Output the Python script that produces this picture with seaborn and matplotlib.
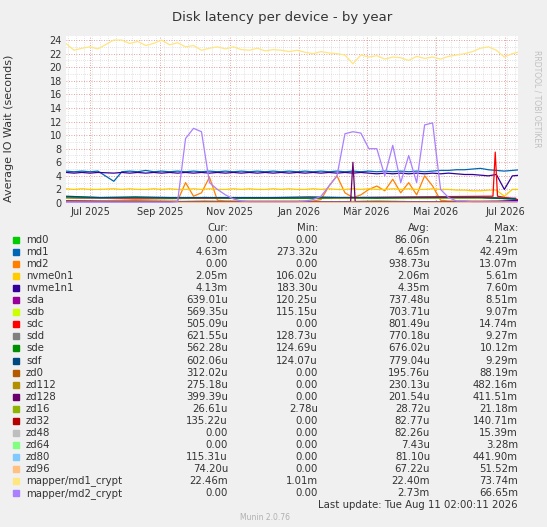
import numpy as np, pandas as pd, matplotlib
matplotlib.use("Agg")
import matplotlib.pyplot as plt, matplotlib.dates as mdates
import seaborn as sns

sns.set_style("white")
plt.rcParams['font.family'] = ['DejaVu Sans']

start = pd.Timestamp("2025-06-10")
N = 58
weeks = [start + pd.Timedelta(days=7 * k) for k in range(N)]
months = [pd.Timestamp(f"{y}-{m:02d}-10") for y, m in
          [(2025, 6), (2025, 7), (2025, 8), (2025, 9), (2025, 10), (2025, 11), (2025, 12),
           (2026, 1), (2026, 2), (2026, 3), (2026, 4), (2026, 5), (2026, 6), (2026, 7)]]
spike_dates = [pd.Timestamp(s) for s in
               ["2025-06-10", "2025-08-10", "2025-10-10", "2025-12-10", "2026-02-15", "2026-02-17",
                "2026-02-19", "2026-04-10", "2026-06-20", "2026-06-22", "2026-06-24", "2026-07-12"]]
nan = np.nan

md1_crypt = [23.5, 22.5, 22.8, 23, 22.7, nan, 24, 24, 23.5, 23.8, 23.2, 23.5, 24, 23.3, 23.6, 23,
             23.2, 22.5, 22.8, 23, 22.7, 23, 22.6, 22.5, 22.8, 22.4, 22.6, 22.5, 22.3, 22.5,
             22.2, 22, 22.3, 22.1, 22, 21.8, 20.5, 21.8, 21.5, 21.7, 21.2, 21.5, 21.4, 21, 21.6, 21.3,
             21.5, 21.2, 21.6, 21.8, 22, 22.3, 22.8, 23, 22.5, 21.5, 22, 22.3]
md2_crypt = [0.1, 0.1, 0.1, 0.1, 0.1, nan, 0.1, 0.1, 0.1, 0.1, 0.1, 0.1, 0.1, 0.1, 0.2,
             9.5, 11, 10.5, 3, 2, 1.2, 0.6, 0.3, 0.2, 0.2, 0.2, 0.2, 0.2, 0.2, 0.2, 0.3,
             0.5, 1, 2.5, 4, 10.2, 10.5, 10.3, 8, 8, 4, 8.5, 3, 7, 3, 11.5, 11.8, 2, 0.8,
             0.3, 0.3, 0.2, 0.2, 0.2, 0.2, 0.2, 0.2, 0.2]
md2 = [0.3, 0.3, 0.3, 0.3, 0.3, nan, 0.3, 0.3, 0.3, 0.3, 0.3, 0.3, 0.3, 0.3, 0.3,
       3, 1, 1.5, 3.8, 0.4, 0.3, 0.3, 0.3, 0.3, 0.3, 0.3, 0.3, 0.3, 0.3, 0.3, 0.3, 0.3,
       0.5, 2.5, 4, 1.5, 0.8, 1.2, 2, 2.5, 1.8, 3.5, 1.5, 3, 1.2, 4, 2.5, 0.4,
       0.3, 0.3, 0.3, 0.3, 0.3, 0.3, 0.3, 0.3, 0.3, 0.3]
nvme1n1 = [4.5, 4.4, 4.5, 4.4, 4.5, nan, 4.4, 4.5, 4.4, 4.5, 4.4, 4.5, 4.4, 4.5, 4.4, 4.5,
           4.4, 4.5, 4.4, 4.5, 4.4, 4.5, 4.4, 4.5, 4.4, 4.5, 4.4, 4.5, 4.4, 4.5, 4.4, 4.5,
           4.4, 4.5, 4.4, 4.5, 4.4, 4.5, 4.4, 4.3, 4.4, 4.3, 4.4, 4.3, 4.4, 4.3, 4.4, 4.3,
           4.4, 4.3, 4.2, 4.2, 4.1, 4.0, 4.2, 2.0, 4.0, 4.1]
md1 = [4.7, 4.6, 4.7, 4.6, 4.7, nan, 3.2, 4.6, 4.7, 4.6, 4.8, 4.6, 4.7, 4.6, 4.7, 4.6,
       4.7, 4.6, 4.7, 4.6, 4.7, 4.6, 4.7, 4.6, 4.7, 4.6, 4.7, 4.6, 4.7, 4.6, 4.7, 4.6,
       4.7, 4.6, 4.7, 4.6, 4.7, 4.6, 4.7, 4.6, 4.7, 4.6, 4.7, 4.6, 4.7, 4.6, 4.7, 4.8,
       4.8, 4.9, 4.9, 5.0, 5.1, 4.9, 4.8, 4.7, 4.8, 4.9]
nvme0n1 = [2.1, 2.0, 2.1, 2.0, 2.0, nan, 2.1, 2.0, 2.1, 2.0, 2.0, 2.1, 2.0, 2.1, 2.0, 2.0,
           2.1, 2.0, 2.1, 2.0, 2.0, 2.1, 2.0, 2.1, 2.0, 2.0, 2.1, 2.0, 2.1, 2.0, 2.0, 2.1,
           2.0, 2.1, 2.0, 2.0, 2.1, 2.0, 2.1, 2.0, 2.0, 2.1, 2.0, 2.1, 2.0, 2.0, 2.1, 2.0,
           2.0, 1.9, 1.9, 1.8, 1.8, 1.9, 1.9, 1.0, 2.0, 2.0]

md0 = [0.0, 0.0, 0.0, 0.0, 0.0, 0.0, 0.0, 0.0, 0.0, 0.0, 0.0, 0.0, 0.0, 0.0]
sda = [0.8, 0.7, 0.7, 0.7, 0.8, 0.7, 0.7, 0.7, 0.8, 0.7, 0.7, 0.8, 0.8, 0.7]
sdb = [0.7, 0.7, 0.7, 0.7, 0.7, 0.7, 0.7, 0.7, 0.7, 0.7, 0.7, 0.7, 0.7, 0.6]
sdc = [0.8, 0.6, 0.7, 0.7, 0.8, 0.8, 0.8, 0.9, 1.0, 7.5, 1.0, 0.5]
sdd = [0.8, 0.7, 0.8, 0.7, 0.8, 0.7, 0.8, 0.7, 0.8, 0.8, 0.8, 0.8, 0.8, 0.6]
sde = [0.9, 0.8, 0.8, 0.7, 0.8, 0.7, 0.7, 0.7, 0.8, 0.7, 0.8, 0.8, 0.8, 0.6]
sdf = [1.0, 0.8, 0.9, 0.8, 0.8, 0.8, 0.8, 0.9, 0.8, 0.8, 0.8, 0.8, 0.8, 0.6]
zd0 = [0.2, 0.2, 0.3, 0.2, 0.2, 0.2, 0.2, 0.2, 0.2, 0.2, 0.2, 0.2, 0.2, 0.3]
zd112 = [0.2, 0.2, 0.2, 0.2, 0.3, 0.2, 0.2, 0.2, 0.2, 0.3, 0.2, 0.2, 0.2, 0.3]
zd128 = [0.3, 0.2, 0.2, 0.2, 0.2, 6.0, 0.2, 0.2, 0.2, 0.2, 0.2, 0.4]
zd16 = [0.03, 0.03, 0.03, 0.03, 0.03, 0.03, 0.03, 0.03, 0.03, 0.03, 0.03, 0.03, 0.03, 0.03]
zd32 = [0.1, 0.1, 0.1, 0.1, 0.1, 0.1, 0.1, 0.1, 0.1, 0.1, 0.1, 0.1, 0.1, 0.1]
zd48 = [0.1, 0.1, 0.1, 0.1, 0.1, 0.1, 0.1, 0.1, 0.1, 0.1, 0.1, 0.1, 0.1, 0.0]
zd64 = [0.0, 0.0, 0.0, 0.0, 0.0, 0.0, 0.0, 0.0, 0.0, 0.0, 0.0, 0.0, 0.0, 0.0]
zd80 = [0.1, 0.1, 0.1, 0.1, 0.1, 0.1, 0.1, 0.1, 0.1, 0.1, 0.1, 0.1, 0.1, 0.1]
zd96 = [0.1, 0.1, 0.1, 0.1, 0.1, 0.1, 0.1, 0.1, 0.1, 0.1, 0.1, 0.1, 0.1, 0.1]

names = ["md0", "md1", "md2", "nvme0n1", "nvme1n1", "sda", "sdb", "sdc", "sdd", "sde", "sdf",
         "zd0", "zd112", "zd128", "zd16", "zd32", "zd48", "zd64", "zd80", "zd96",
         "mapper/md1_crypt", "mapper/md2_crypt"]
colors = ["#00CC00", "#0066B3", "#FF8000", "#FFCC00", "#330099", "#990099", "#CCFF00", "#FF0000",
          "#808080", "#008F00", "#00487D", "#B35A00", "#B38F00", "#6B006B", "#8FB300", "#B30000",
          "#BEBEBE", "#80FF80", "#80C9FF", "#FFC080", "#FFE680", "#AA80FF"]
series = [md0, md1, md2, nvme0n1, nvme1n1, sda, sdb, sdc, sdd, sde, sdf, zd0, zd112, zd128, zd16,
          zd32, zd48, zd64, zd80, zd96, md1_crypt, md2_crypt]
cur = ["0.00", "4.63m", "0.00", "2.05m", "4.13m", "639.01u", "569.35u", "505.09u", "621.55u",
       "562.28u", "602.06u", "312.02u", "275.18u", "399.39u", "26.61u", "135.22u", "0.00", "0.00",
       "115.31u", "74.20u", "22.46m", "0.00"]
mins = ["0.00", "273.32u", "0.00", "106.02u", "183.30u", "120.25u", "115.15u", "0.00", "128.73u",
        "124.69u", "124.07u", "0.00", "0.00", "0.00", "2.78u", "0.00", "0.00", "0.00", "0.00",
        "0.00", "1.01m", "0.00"]
avgs = ["86.06n", "4.65m", "938.73u", "2.06m", "4.35m", "737.48u", "703.71u", "801.49u",
        "770.18u", "676.02u", "779.04u", "195.76u", "230.13u", "201.54u", "28.72u", "82.77u",
        "82.26u", "7.43u", "81.10u", "67.22u", "22.40m", "2.73m"]
maxs = ["4.21m", "42.49m", "13.07m", "5.61m", "7.60m", "8.51m", "9.07m", "14.74m", "9.27m",
        "10.12m", "9.29m", "88.19m", "482.16m", "411.51m", "21.18m", "140.71m", "15.39m",
        "3.28m", "441.90m", "51.52m", "73.74m", "66.65m"]

W, H = 547, 527
fig = plt.figure(figsize=(W / 100, H / 100), dpi=100, facecolor="#F0F0F0")
ax = fig.add_axes([66 / W, 1 - 203 / H, (518 - 66) / W, (203 - 36) / H])
ax.set_facecolor("white")

for i in range(len(names)):
    n = len(series[i])
    x = weeks if n == N else (months if n == len(months) else spike_dates)
    sns.lineplot(x=x, y=series[i], ax=ax, color=colors[i], lw=0.9, legend=False)

ax.set_xlim(start, pd.Timestamp("2026-07-12"))
ax.set_ylim(0, 24.6)
ax.set_yticks(range(0, 25, 2))
ax.set_yticks(np.arange(0, 24.6, 1), minor=True)
lbls = ["Jul 2025", "Sep 2025", "Nov 2025", "Jan 2026", "Mär 2026", "Mai 2026", "Jul 2026"]
ax.set_xticks([pd.Timestamp(s) for s in ["2025-07-01", "2025-09-01", "2025-11-01", "2026-01-01",
                                          "2026-03-01", "2026-05-01", "2026-07-01"]])
ax.set_xticklabels(lbls)
ax.set_xticks(pd.date_range("2025-06-12", "2026-07-12", freq="7D"), minor=True)
ax.grid(True, which="major", axis="both", color="#E08080", ls=(0, (1, 2)), lw=0.6)
ax.grid(True, which="minor", axis="both", color="#C8C8C8", ls=(0, (1, 2)), lw=0.5)
ax.tick_params(labelsize=7, colors="#333333", length=0, pad=3)
for s in ax.spines.values():
    s.set_visible(False)
ax.set_ylabel("Average IO Wait (seconds)", fontsize=8, color="#333333")
ax.yaxis.set_label_coords(-0.115, 0.45)
ax.axhline(0, color="#C0C0FF", lw=1)

fig.text(282 / W, 1 - 18 / H, "Disk latency per device - by year", ha="center", va="center",
         fontsize=9.5, color="#333333")
fig.text(537 / W, 1 - 50 / H, "RRDTOOL / TOBI OETIKER", rotation=270, ha="center", va="top",
         fontsize=5.5, color="#C0C0C0")

fs = 7.3
def yy(p): return 1 - p / H
for lbl, xr in [("Cur:", 228), ("Min:", 318), ("Avg:", 430), ("Max:", 518)]:
    fig.text(xr / W, yy(228), lbl, ha="right", va="center", fontsize=fs, color="#333333")
for i, n in enumerate(names):
    y = 240 + 12.05 * i
    fig.patches.append(plt.Rectangle((13 / W, yy(y + 3)), 6 / W, 6 / H, transform=fig.transFigure,
                                     color=colors[i], figure=fig))
    fig.text(26 / W, yy(y), n, ha="left", va="center", fontsize=fs, color="#333333")
    for v, xr in [(cur[i], 228), (mins[i], 318), (avgs[i], 430), (maxs[i], 518)]:
        fig.text(xr / W, yy(y), v, ha="right", va="center", fontsize=fs, color="#333333")
fig.text(518 / W, yy(505), "Last update: Tue Aug 11 02:00:11 2026", ha="right", va="center",
         fontsize=fs, color="#333333")
fig.text(265 / W, yy(517), "Munin 2.0.76", ha="center", va="center", fontsize=5.5, color="#B0B0B0")

fig.savefig("out.png", dpi=100, facecolor=fig.get_facecolor())
